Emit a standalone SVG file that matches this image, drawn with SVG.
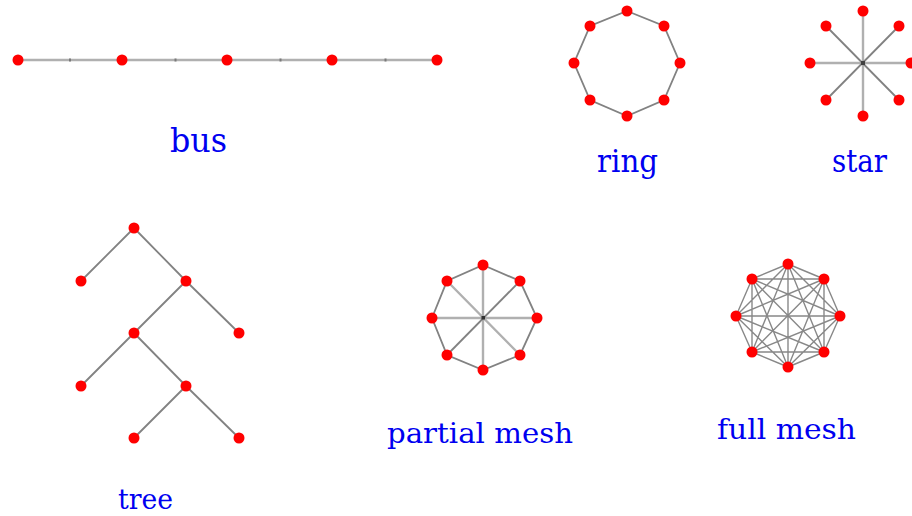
<svg xmlns="http://www.w3.org/2000/svg" xmlns:xlink="http://www.w3.org/1999/xlink" width="912" height="516" viewBox="0 0 912 516">
<style>
.lt{stroke:#b0b0b0;stroke-width:2.4;fill:none}
.dk{stroke:#828282;stroke-width:1.8;fill:none}
.mesh{stroke:#888888;stroke-width:1.4;fill:none}
.lbl{font-family:"DejaVu Serif","Liberation Serif",serif;fill:#0000f0}
</style>
<defs>
<circle id="dot" r="5.5" fill="#ff0000"/>
</defs>
<rect width="912" height="516" fill="#ffffff"/>
<g id="connectors">
<path class="lt" d="M18 60H437"/>
<g fill="#7a7a7a"><rect x="69" y="58.5" width="2" height="3"/><rect x="174.5" y="58.5" width="2" height="3"/><rect x="279.5" y="58.5" width="2" height="3"/><rect x="384.5" y="58.5" width="2" height="3"/></g>
<path class="dk" d="M627 11L664 26L680 63L664 100L627 116L590 100L574 63L590 26Z"/>
<path class="lt" d="M863 11V116M810 63H911"/>
<path class="dk" d="M826 26L899 100M899 26L826 100"/>
<rect x="861" y="61" width="4" height="4" fill="#404040"/>
<path class="dk" d="M134 228L81 281M134 228L186 281M186 281L134 333M186 281L239 333M134 333L81 386M134 333L186 386M186 386L134 438M186 386L239 438"/>
<path class="dk" d="M483 265L520 281L537 318L520 355L483 370L447 355L432 318L447 281Z"/>
<path class="lt" d="M483 265V370M432 318H537M447 281L520 355"/>
<path class="dk" d="M520 281L447 355"/>
<rect x="481.5" y="316" width="3.5" height="3.5" fill="#303030"/>
<path class="mesh" d="M788 264L824 279M788 264L840 316M788 264L824 352M788 264L788 367M788 264L752 352M788 264L736 316M788 264L752 279M824 279L840 316M824 279L824 352M824 279L788 367M824 279L752 352M824 279L736 316M824 279L752 279M840 316L824 352M840 316L788 367M840 316L752 352M840 316L736 316M840 316L752 279M824 352L788 367M824 352L752 352M824 352L736 316M824 352L752 279M788 367L752 352M788 367L736 316M788 367L752 279M752 352L736 316M752 352L752 279M736 316L752 279"/>
</g>
<g id="bus">
<g id="bus-n1"><use xlink:href="#dot" x="18" y="60"/></g>
<g id="bus-n2"><use xlink:href="#dot" x="122" y="60"/></g>
<g id="bus-n3"><use xlink:href="#dot" x="227" y="60"/></g>
<g id="bus-n4"><use xlink:href="#dot" x="332" y="60"/></g>
<g id="bus-n5"><use xlink:href="#dot" x="437" y="60"/></g>
<text class="lbl" x="170" y="152" font-size="33" textLength="57" lengthAdjust="spacingAndGlyphs">bus</text>
</g>
<g id="ring">
<g id="ring-n1"><use xlink:href="#dot" x="627" y="11"/></g>
<g id="ring-n2"><use xlink:href="#dot" x="664" y="26"/></g>
<g id="ring-n3"><use xlink:href="#dot" x="680" y="63"/></g>
<g id="ring-n4"><use xlink:href="#dot" x="664" y="100"/></g>
<g id="ring-n5"><use xlink:href="#dot" x="627" y="116"/></g>
<g id="ring-n6"><use xlink:href="#dot" x="590" y="100"/></g>
<g id="ring-n7"><use xlink:href="#dot" x="574" y="63"/></g>
<g id="ring-n8"><use xlink:href="#dot" x="590" y="26"/></g>
<text class="lbl" x="597" y="172" font-size="32" textLength="61" lengthAdjust="spacingAndGlyphs">ring</text>
</g>
<g id="star">
<g id="star-n1"><use xlink:href="#dot" x="863" y="11"/></g>
<g id="star-n2"><use xlink:href="#dot" x="899" y="26"/></g>
<g id="star-n3"><use xlink:href="#dot" x="911" y="63"/></g>
<g id="star-n4"><use xlink:href="#dot" x="899" y="100"/></g>
<g id="star-n5"><use xlink:href="#dot" x="863" y="116"/></g>
<g id="star-n6"><use xlink:href="#dot" x="826" y="100"/></g>
<g id="star-n7"><use xlink:href="#dot" x="810" y="63"/></g>
<g id="star-n8"><use xlink:href="#dot" x="826" y="26"/></g>
<text class="lbl" x="832" y="172" font-size="32" textLength="55" lengthAdjust="spacingAndGlyphs">star</text>
</g>
<g id="tree">
<g id="tree-n1"><use xlink:href="#dot" x="134" y="228"/></g>
<g id="tree-n2"><use xlink:href="#dot" x="81" y="281"/></g>
<g id="tree-n3"><use xlink:href="#dot" x="186" y="281"/></g>
<g id="tree-n4"><use xlink:href="#dot" x="134" y="333"/></g>
<g id="tree-n5"><use xlink:href="#dot" x="239" y="333"/></g>
<g id="tree-n6"><use xlink:href="#dot" x="81" y="386"/></g>
<g id="tree-n7"><use xlink:href="#dot" x="186" y="386"/></g>
<g id="tree-n8"><use xlink:href="#dot" x="134" y="438"/></g>
<g id="tree-n9"><use xlink:href="#dot" x="239" y="438"/></g>
<text class="lbl" x="118" y="509" font-size="27" textLength="55" lengthAdjust="spacingAndGlyphs">tree</text>
</g>
<g id="partial-mesh">
<g id="pm-n1"><use xlink:href="#dot" x="483" y="265"/></g>
<g id="pm-n2"><use xlink:href="#dot" x="520" y="281"/></g>
<g id="pm-n3"><use xlink:href="#dot" x="537" y="318"/></g>
<g id="pm-n4"><use xlink:href="#dot" x="520" y="355"/></g>
<g id="pm-n5"><use xlink:href="#dot" x="483" y="370"/></g>
<g id="pm-n6"><use xlink:href="#dot" x="447" y="355"/></g>
<g id="pm-n7"><use xlink:href="#dot" x="432" y="318"/></g>
<g id="pm-n8"><use xlink:href="#dot" x="447" y="281"/></g>
<text class="lbl" x="387" y="443" font-size="28" textLength="186" lengthAdjust="spacingAndGlyphs">partial mesh</text>
</g>
<g id="full-mesh">
<g id="fm-n1"><use xlink:href="#dot" x="788" y="264"/></g>
<g id="fm-n2"><use xlink:href="#dot" x="824" y="279"/></g>
<g id="fm-n3"><use xlink:href="#dot" x="840" y="316"/></g>
<g id="fm-n4"><use xlink:href="#dot" x="824" y="352"/></g>
<g id="fm-n5"><use xlink:href="#dot" x="788" y="367"/></g>
<g id="fm-n6"><use xlink:href="#dot" x="752" y="352"/></g>
<g id="fm-n7"><use xlink:href="#dot" x="736" y="316"/></g>
<g id="fm-n8"><use xlink:href="#dot" x="752" y="279"/></g>
<text class="lbl" x="717" y="439" font-size="28" textLength="139" lengthAdjust="spacingAndGlyphs">full mesh</text>
</g>
</svg>
